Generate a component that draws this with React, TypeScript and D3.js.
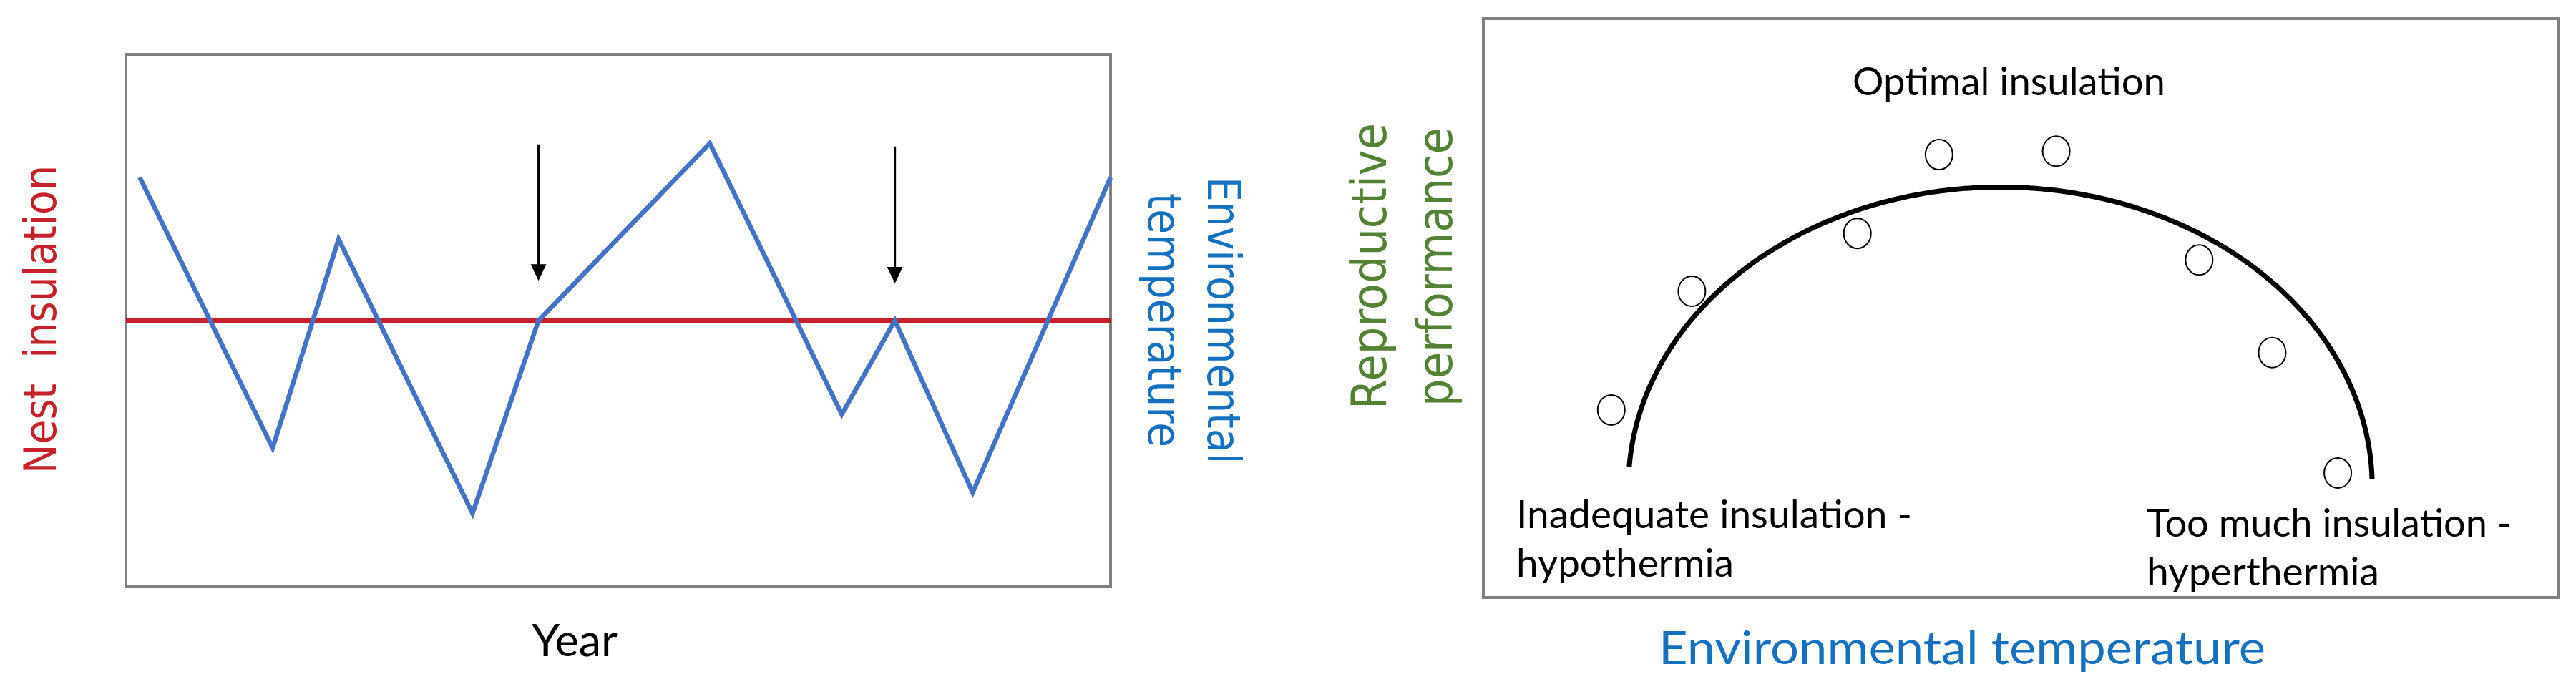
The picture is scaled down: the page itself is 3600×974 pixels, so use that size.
import React from 'react';
import * as d3 from 'd3';

// left panel: year position (0-100 across the box) and environmental temperature
const years = [1.4, 14.9, 21.6, 35.2, 41.9, 59.3, 72.7, 78.1, 86.0, 100];
const envTemp = [76.9, 26.1, 65.3, 13.8, 50, 83.3, 32.4, 50, 17.7, 76.9];
const nestInsulation = 50;
const arrowYears = [41.9, 78.1];
const arrowFrom = [83.1, 82.7];
const arrowTo = [57.5, 57.0];

// right panel: observed nests and the performance curve
const tempObs = [11.9, 19.4, 34.8, 42.4, 53.3, 66.6, 73.4, 79.5];
const perfObs = [32.4, 52.9, 62.9, 76.5, 77.1, 58.3, 42.3, 21.5];
const curveCenter = [48.1, 19.2];
const curveRadius = [34.6, 51.7];
const curveAngles = [176.2, 1.4];

const W = 3600;
const H = 974;

const calibri = 'Lato, "Open Sans", sans-serif';
const verdana = '"DejaVu Sans", Verdana, sans-serif';

export default function App() {
  // left chart scales
  const xL = d3.scaleLinear().domain([0, 100]).range([176, 1552]);
  const yL = d3.scaleLinear().domain([0, 100]).range([820, 76]);
  const tempLine = d3
    .line<number>()
    .x((d, i) => xL(years[i]))
    .y((d) => yL(d));

  // right chart scales
  const xR = d3.scaleLinear().domain([0, 100]).range([2073, 3575]);
  const yR = d3.scaleLinear().domain([0, 100]).range([835, 26]);
  const angles = d3.range(curveAngles[0], curveAngles[1] - 0.01, -1).concat([curveAngles[1]]);
  const curvePts = angles.map((a) => {
    const r = (a * Math.PI) / 180;
    return [
      curveCenter[0] + curveRadius[0] * Math.cos(r),
      curveCenter[1] + curveRadius[1] * Math.sin(r),
    ] as [number, number];
  });
  const perfLine = d3
    .line<[number, number]>()
    .x((d) => xR(d[0]))
    .y((d) => yR(d[1]))
    .curve(d3.curveCatmullRom);

  return (
    <svg
      width={W}
      height={H}
      style={{ position: 'absolute', left: 0, top: 0, background: '#fff' }}
    >
      {/* ---------- left panel ---------- */}
      <rect x={176} y={76} width={1376} height={744} fill="none" stroke="#808080" strokeWidth={4} />
      <line
        x1={xL(0)}
        x2={xL(100)}
        y1={yL(nestInsulation)}
        y2={yL(nestInsulation)}
        stroke="#C4212B"
        strokeWidth={7}
      />
      <path d={tempLine(envTemp) || ''} fill="none" stroke="#4472C4" strokeWidth={6.5} strokeLinejoin="miter" />
      {arrowYears.map((yr, i) => (
        <g key={i}>
          <line
            x1={xL(yr)}
            x2={xL(yr)}
            y1={yL(arrowFrom[i])}
            y2={yL(arrowTo[i]) - 18}
            stroke="#000"
            strokeWidth={3}
          />
          <path
            d={`M${xL(yr) - 11},${yL(arrowTo[i]) - 23} L${xL(yr) + 11},${yL(arrowTo[i]) - 23} L${xL(yr)},${yL(arrowTo[i])} Z`}
            fill="#000"
          />
        </g>
      ))}
      <text
        transform="translate(78,446.5) rotate(-90)"
        textAnchor="middle"
        fontFamily={verdana}
        fontSize={63}
        fill="#C4212B"
        textLength={431}
        lengthAdjust="spacingAndGlyphs"
        style={{ whiteSpace: 'pre' }}
      >
        {'Nest  insulation'}
      </text>
      <text
        transform="translate(1688,447.5) rotate(90)"
        textAnchor="middle"
        fontFamily={verdana}
        fontSize={64}
        fill="#1570BF"
        textLength={401}
        lengthAdjust="spacingAndGlyphs"
      >
        Environmental
      </text>
      <text
        transform="translate(1605,447.5) rotate(90)"
        textAnchor="middle"
        fontFamily={verdana}
        fontSize={64}
        fill="#1570BF"
        textLength={355}
        lengthAdjust="spacingAndGlyphs"
      >
        temperature
      </text>
      <text x={743} y={917} fontFamily={calibri} fontSize={61} fill="#000" textLength={120} lengthAdjust="spacingAndGlyphs">
        Year
      </text>

      {/* ---------- right panel ---------- */}
      <rect x={2073} y={26} width={1502} height={809} fill="none" stroke="#808080" strokeWidth={4} />
      <path d={perfLine(curvePts) || ''} fill="none" stroke="#000" strokeWidth={7} />
      {tempObs.map((t, i) => (
        <ellipse key={i} cx={xR(t)} cy={yR(perfObs[i])} rx={19} ry={21} fill="#fff" stroke="#000" strokeWidth={2} />
      ))}
      <text x={2589} y={133} fontFamily={calibri} fontSize={54} textLength={437} lengthAdjust="spacingAndGlyphs">
        Optimal insulation
      </text>
      <text x={2119} y={738} fontFamily={calibri} fontSize={54} textLength={553} lengthAdjust="spacingAndGlyphs">
        Inadequate insulation -
      </text>
      <text x={2119} y={806} fontFamily={calibri} fontSize={54} textLength={304} lengthAdjust="spacingAndGlyphs">
        hypothermia
      </text>
      <text x={3000} y={750} fontFamily={calibri} fontSize={54} textLength={510} lengthAdjust="spacingAndGlyphs">
        Too much insulation -
      </text>
      <text x={3000} y={818} fontFamily={calibri} fontSize={54} textLength={325} lengthAdjust="spacingAndGlyphs">
        hyperthermia
      </text>
      <text
        transform="translate(1937,372) rotate(-90)"
        textAnchor="middle"
        fontFamily={verdana}
        fontSize={67}
        fill="#548235"
        textLength={400}
        lengthAdjust="spacingAndGlyphs"
      >
        Reproductive
      </text>
      <text
        transform="translate(2029,373) rotate(-90)"
        textAnchor="middle"
        fontFamily={verdana}
        fontSize={67}
        fill="#548235"
        textLength={390}
        lengthAdjust="spacingAndGlyphs"
      >
        performance
      </text>
      <text x={2318} y={928} fontFamily={calibri} fontSize={64} fill="#1570BF" textLength={848} lengthAdjust="spacingAndGlyphs">
        Environmental temperature
      </text>
    </svg>
  );
}
